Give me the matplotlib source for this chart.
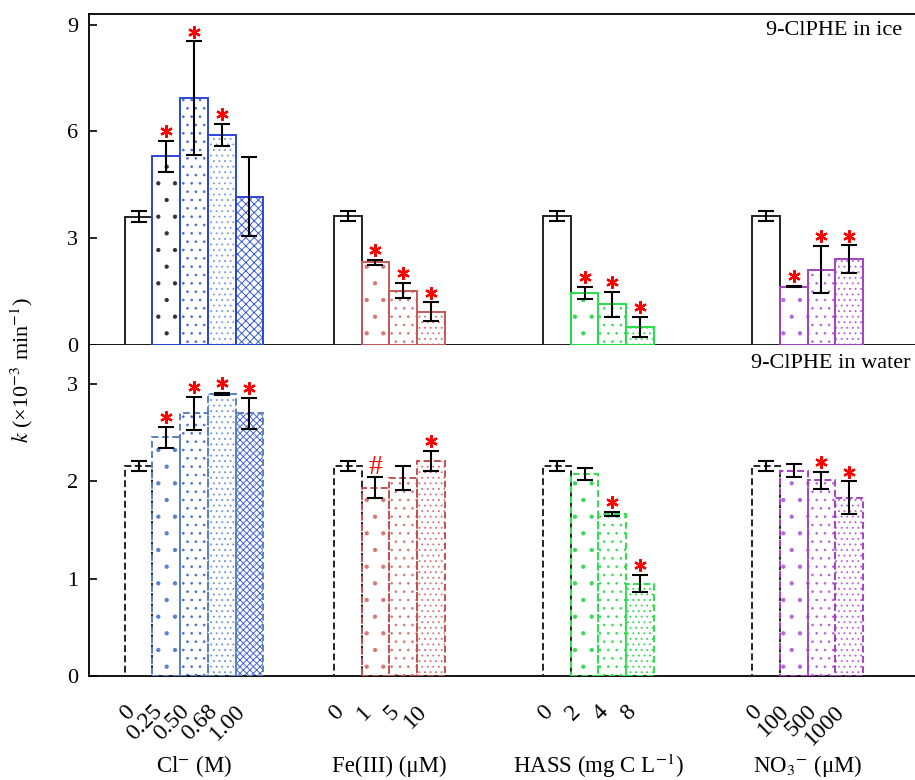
import numpy as np
import matplotlib.pyplot as plt
from matplotlib.transforms import offset_copy

plt.rcParams['font.family'] = ['Liberation Serif', 'DejaVu Serif']
plt.rcParams['mathtext.fontset'] = 'stix'
plt.rcParams['hatch.linewidth'] = 0.65

# group labels and tick labels
group_names = [r"Cl$^{-}$ (M)", "Fe(III) (μM)", r"HASS (mg C L$^{-1}$)", r"NO$_3$$^{-}$ (μM)"]
cl_ticks = ["0", "0.25", "0.50", "0.68", "1.00"]
fe_ticks = ["0", "1", "5", "10"]
hass_ticks = ["0", "2", "4", "8"]
no3_ticks = ["0", "100", "500", "1000"]

# 9-ClPHE in ice
ice_cl = [3.61, 5.30, 6.93, 5.90, 4.17]
ice_cl_err = [0.15, 0.43, 1.60, 0.32, 1.11]
ice_fe = [3.62, 2.32, 1.53, 0.94]
ice_fe_err = [0.14, 0.07, 0.22, 0.26]
ice_hass = [3.62, 1.46, 1.14, 0.51]
ice_hass_err = [0.14, 0.18, 0.35, 0.28]
ice_no3 = [3.62, 1.64, 2.12, 2.41]
ice_no3_err = [0.14, 0.02, 0.66, 0.39]
ice_marks = [["", "*", "*", "*", ""], ["", "*", "*", "*"], ["", "*", "*", "*"], ["", "*", "*", "*"]]

# 9-ClPHE in water
water_cl = [2.16, 2.45, 2.70, 2.895, 2.70]
water_cl_err = [0.05, 0.11, 0.17, 0.01, 0.16]
water_fe = [2.16, 1.935, 2.035, 2.21]
water_fe_err = [0.05, 0.11, 0.12, 0.10]
water_hass = [2.16, 2.076, 1.665, 0.95]
water_hass_err = [0.05, 0.06, 0.02, 0.09]
water_no3 = [2.16, 2.11, 2.01, 1.83]
water_no3_err = [0.05, 0.07, 0.09, 0.17]
water_marks = [["", "*", "*", "*", "*"], ["", "#", "", "*"], ["", "", "*", "*"], ["", "", "*", "*"]]

tick_sets = [cl_ticks, fe_ticks, hass_ticks, no3_ticks]
ice_vals = [ice_cl, ice_fe, ice_hass, ice_no3]
ice_errs = [ice_cl_err, ice_fe_err, ice_hass_err, ice_no3_err]
water_vals = [water_cl, water_fe, water_hass, water_no3]
water_errs = [water_cl_err, water_fe_err, water_hass_err, water_no3_err]

# styling
ice_edge = ['#2b46d6', '#c85858', '#22e048', '#a642c2']
water_edge = ['#5a80c4', '#c05252', '#2ee050', '#a642c2']
ice_hatch_col = [['k', '#333333', '#4a68e0', '#7aa0e0', '#3050d8'],
                 ['k', '#d47878', '#d47878', '#d47878'],
                 ['k', '#3ad858', '#3ad858', '#3ad858'],
                 ['k', '#b468d4', '#b468d4', '#b468d4']]
water_hatch_col = [['k', '#5a7ed0', '#4a68e0', '#7098d0', '#3a5ad8'],
                   ['k', '#d47878', '#d47878', '#d47878'],
                   ['k', '#3ad858', '#3ad858', '#3ad858'],
                   ['k', '#b468d4', '#b468d4', '#b468d4']]
ice_hatches = [None, '.', '..', '...', 'xxxx']
water_hatches = [None, '.', '..', '...', 'xxxxx']

group_step = 7.55

fig = plt.figure(figsize=(9.15, 7.8), dpi=100)
ax1 = fig.add_axes([89 / 915, 1 - 345 / 780, 1 - 89 / 915, 331 / 780])
ax2 = fig.add_axes([89 / 915, 1 - 676 / 780, 1 - 89 / 915, 331 / 780])


def draw_panel(ax, vals, errs, edges, hcols, hatches, marks, ls, star_off):
    trans = offset_copy(ax.transData, fig=fig, y=star_off, units='points')
    all_pos = []
    for g, (v, e) in enumerate(zip(vals, errs)):
        pos = g * group_step + np.arange(len(v))
        all_pos.extend(pos)
        for i in range(len(v)):
            if hatches[i] is not None:
                ax.bar(pos[i], v[i], width=1.0, color='none', edgecolor=hcols[g][i],
                       linewidth=0, hatch=hatches[i], zorder=2)
            ec = '#222222' if i == 0 else edges[g]
            ax.bar(pos[i], v[i], width=1.0, fill=False, edgecolor=ec,
                   linewidth=1.4, linestyle=ls, zorder=3)
        ax.errorbar(pos, v, yerr=e, fmt='none', ecolor='k', elinewidth=1.5,
                    capsize=6, capthick=1.5, zorder=4)
        for i, m in enumerate(marks[g]):
            if m == '*':
                ax.plot(pos[i], v[i] + e[i], marker=(6, 2, 0), ms=9, mew=1.6,
                        color='red', transform=trans, zorder=5)
            elif m == '#':
                ax.text(pos[i], v[i] + e[i], '#', color='red', fontsize=20,
                        ha='center', va='center', transform=trans, zorder=5)
    return all_pos


draw_panel(ax1, ice_vals, ice_errs, ice_edge, ice_hatch_col, ice_hatches, ice_marks, '-', 7)
pos = draw_panel(ax2, water_vals, water_errs, water_edge, water_hatch_col, water_hatches,
                 water_marks, (0, (3.5, 1.8)), 7)

for ax in (ax1, ax2):
    ax.set_xlim(-1.79, 28.03)
    ax.spines['right'].set_visible(False)
    for s in ax.spines.values():
        s.set_linewidth(1.3)
    ax.tick_params(axis='y', direction='in', length=6, width=1.2, labelsize=16, pad=8)

ax1.set_ylim(0, 9.3)
ax1.set_yticks([0, 3, 6, 9])
ax1.set_xticks([])
ax2.set_ylim(0, 3.4)
ax2.set_yticks([0, 1, 2, 3])
ax2.spines['top'].set_visible(False)

labels = [t for ts in tick_sets for t in ts]
ax2.set_xticks(pos)
ax2.set_xticklabels(labels, rotation=45, ha='right', fontsize=17)
ax2.tick_params(axis='x', length=0, pad=18)

for g, name in enumerate(group_names):
    n = len(tick_sets[g])
    cx = g * group_step + (n - 1) / 2
    ax2.annotate(name, xy=(cx, -0.272), xycoords=('data', 'axes fraction'),
                 ha='center', va='center', fontsize=16.5)

ax1.text(0.985, 0.95, "9-ClPHE in ice", transform=ax1.transAxes, ha='right',
         va='center', fontsize=16)
ax2.text(0.995, 0.945, "9-ClPHE in water", transform=ax2.transAxes, ha='right',
         va='center', fontsize=16)

fig.text(22 / 915, 1 - 370 / 780, r"$k$ (×10$^{-3}$ min$^{-1}$)", rotation=90,
         ha='center', va='center', fontsize=16)

fig.savefig("out.png", dpi=100)
